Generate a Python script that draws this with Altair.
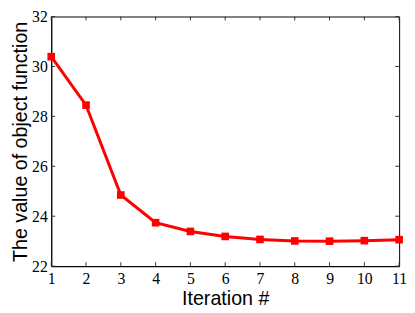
import altair as alt
import pandas as pd

iterations = [1, 2, 3, 4, 5, 6, 7, 8, 9, 10, 11]
values = [30.39, 28.45, 24.85, 23.74, 23.39, 23.19, 23.07, 23.01, 23.0, 23.02, 23.06]
x_ticks = [1, 2, 3, 4, 5, 6, 7, 8, 9, 10, 11]
y_ticks = [22, 24, 26, 28, 30, 32]

W, H = 354, 254

df = pd.DataFrame({"it": iterations, "val": values})
xt = pd.DataFrame({"t": x_ticks})
yt = pd.DataFrame({"t": y_ticks})

xs = alt.Scale(domain=[1, 11], nice=False, zero=False)
ys = alt.Scale(domain=[22, 32], nice=False, zero=False)

xax = alt.Axis(values=x_ticks, title="Iteration #", tickSize=0, labelPadding=5,
               labelOverlap=False, labelFlush=False, labelBound=False,
               labelFont="Liberation Serif", labelFontSize=16, labelColor="black",
               titleFont="Liberation Sans", titleFontSize=20, titleFontWeight="normal",
               titleColor="black", titlePadding=2, domainColor="black", grid=False)
yax = alt.Axis(values=y_ticks, title="The value of object function", tickSize=0,
               labelPadding=4, labelOverlap=False, labelFlush=False, labelBound=False,
               labelFont="Liberation Serif", labelFontSize=16,
               labelColor="black", titleFont="Liberation Sans", titleFontSize=20,
               titleFontWeight="normal", titleColor="black", titlePadding=1,
               domainColor="black", grid=False)

base = alt.Chart(df)

line = base.mark_line(color="#ff0000", strokeWidth=3).encode(
    x=alt.X("it:Q", scale=xs, axis=xax),
    y=alt.Y("val:Q", scale=ys, axis=yax),
)
points = base.mark_square(color="#ff0000", size=60, opacity=1).encode(
    x=alt.X("it:Q", scale=xs, axis=xax), y=alt.Y("val:Q", scale=ys, axis=yax)
)

tick_color = "#333333"
xb = alt.Chart(xt).mark_rule(color=tick_color, strokeWidth=1).encode(
    x=alt.X("t:Q", scale=xs, axis=xax), y=alt.value(H), y2=alt.value(H - 4))
xtop = alt.Chart(xt).mark_rule(color=tick_color, strokeWidth=1).encode(
    x=alt.X("t:Q", scale=xs, axis=xax), y=alt.value(0), y2=alt.value(4))
yl = alt.Chart(yt).mark_rule(color=tick_color, strokeWidth=1).encode(
    y=alt.Y("t:Q", scale=ys, axis=yax), x=alt.value(0), x2=alt.value(4))
yr = alt.Chart(yt).mark_rule(color=tick_color, strokeWidth=1).encode(
    y=alt.Y("t:Q", scale=ys, axis=yax), x=alt.value(W), x2=alt.value(W - 4))

chart = alt.layer(line, points, xb, xtop, yl, yr).properties(
    width=W, height=H,
    background="white",
    autosize=alt.AutoSizeParams(type="none"),
    padding={"left": 44, "top": 6, "right": 8, "bottom": 44},
).configure_view(stroke="black", strokeWidth=1).configure_axis(
    labelOverlap=False
)

chart.save("out.html", embed_options={"renderer": "svg", "actions": False})
